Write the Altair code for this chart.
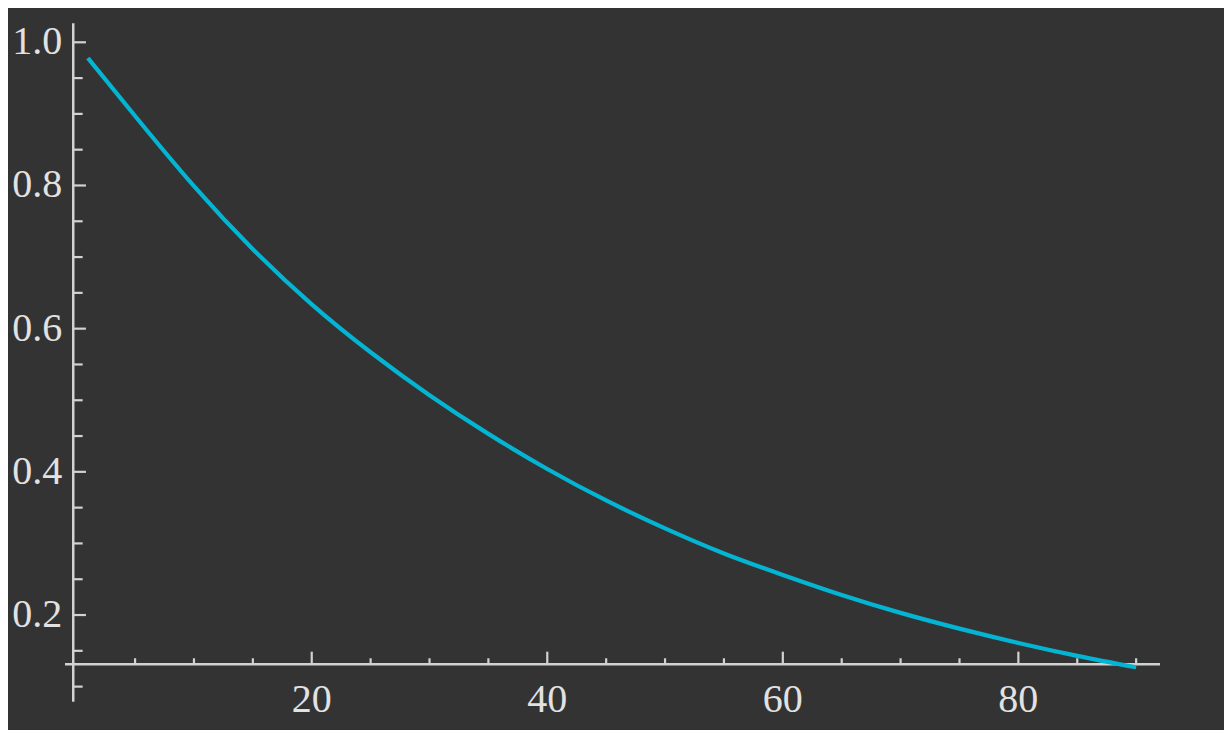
import altair as alt
import pandas as pd

# ---- data ----
x_vals = [1, 5, 10, 15, 20, 25, 30, 35, 40, 45, 50, 55, 60, 65, 70, 75, 80, 85, 90]
y_vals = [0.978, 0.897, 0.799, 0.711, 0.634, 0.567, 0.507, 0.453, 0.404, 0.360,
          0.321, 0.286, 0.256, 0.228, 0.203, 0.181, 0.161, 0.143, 0.127]

x_major = [20, 40, 60, 80]
x_labels = ["20", "40", "60", "80"]
x_minor = [5, 10, 15, 25, 30, 35, 45, 50, 55, 65, 70, 75, 85, 90]
y_major = [0.2, 0.4, 0.6, 0.8, 1.0]
y_labels = ["0.2", "0.4", "0.6", "0.8", "1.0"]
y_minor = [0.1, 0.15, 0.25, 0.3, 0.35, 0.45, 0.5, 0.55, 0.65, 0.7, 0.75, 0.85, 0.9, 0.95]

# plot range and axes placement (Mathematica-style crossing axes)
x_domain = [-5.79, 97.46]
y_domain = [0.0394, 1.0479]
axis_cross_x = -0.25
axis_cross_y = 0.1312
x_axis_span = [-0.95, 92.03]
y_axis_span = [0.079, 1.0265]

BG = "#333333"
AXIS_COLOR = "#d2d2d2"
TEXT_COLOR = "#e2e2e2"
LINE_COLOR = "#03b5d2"
FONT = "Liberation Serif"

xs = alt.Scale(domain=x_domain, nice=False, zero=False)
ys = alt.Scale(domain=y_domain, nice=False, zero=False)

curve = pd.DataFrame({"x": x_vals, "y": y_vals})
xaxis_df = pd.DataFrame({"x": [x_axis_span[0]], "x2": [x_axis_span[1]], "y": [axis_cross_y]})
yaxis_df = pd.DataFrame({"y": [y_axis_span[0]], "y2": [y_axis_span[1]], "x": [axis_cross_x]})
xmaj_df = pd.DataFrame({"x": x_major, "y": [axis_cross_y] * len(x_major), "label": x_labels})
xmin_df = pd.DataFrame({"x": x_minor, "y": [axis_cross_y] * len(x_minor)})
ymaj_df = pd.DataFrame({"y": y_major, "x": [axis_cross_x] * len(y_major), "label": y_labels})
ymin_df = pd.DataFrame({"y": y_minor, "x": [axis_cross_x] * len(y_minor)})

X = lambda f="x": alt.X(f"{f}:Q", scale=xs, axis=None)
Y = lambda f="y": alt.Y(f"{f}:Q", scale=ys, axis=None)

xaxis = alt.Chart(xaxis_df).mark_rule(color=AXIS_COLOR, strokeWidth=2.5).encode(
    x=X(), x2="x2:Q", y=Y())
yaxis = alt.Chart(yaxis_df).mark_rule(color=AXIS_COLOR, strokeWidth=2.5).encode(
    y=Y(), y2="y2:Q", x=X())

xmaj = alt.Chart(xmaj_df).mark_tick(orient="vertical", size=12.6, thickness=2.2,
                                    yOffset=-6.3, color=AXIS_COLOR, opacity=1).encode(x=X(), y=Y())
xmin = alt.Chart(xmin_df).mark_tick(orient="vertical", size=6, thickness=2.2,
                                    yOffset=-3, color=AXIS_COLOR, opacity=1).encode(x=X(), y=Y())
ymaj = alt.Chart(ymaj_df).mark_tick(orient="horizontal", size=12.7, thickness=2.2,
                                    xOffset=6.35, color=AXIS_COLOR, opacity=1).encode(x=X(), y=Y())
ymin = alt.Chart(ymin_df).mark_tick(orient="horizontal", size=9.4, thickness=2.2,
                                    xOffset=4.7, color=AXIS_COLOR, opacity=1).encode(x=X(), y=Y())

xlab = alt.Chart(xmaj_df).mark_text(font=FONT, fontSize=40, color=TEXT_COLOR,
                                    align="center", baseline="alphabetic", dy=48).encode(
    x=X(), y=Y(), text="label:N")
ylab = alt.Chart(ymaj_df).mark_text(font=FONT, fontSize=40, color=TEXT_COLOR,
                                    align="right", baseline="middle", dx=-11).encode(
    x=X(), y=Y(), text="label:N")

line = alt.Chart(curve).mark_line(color=LINE_COLOR, strokeWidth=4.2,
                                  interpolate="natural").encode(x=X(), y=Y())

chart = alt.layer(xaxis, yaxis, xmaj, xmin, ymaj, ymin, xlab, ylab, line).properties(
    width=1216, height=722,
    autosize=alt.AutoSizeParams(type="fit", contains="padding"),
    padding=0,
    background=BG,
).configure_view(stroke=None)

chart.save("out.html", embed_options={"renderer": "svg", "actions": False})
